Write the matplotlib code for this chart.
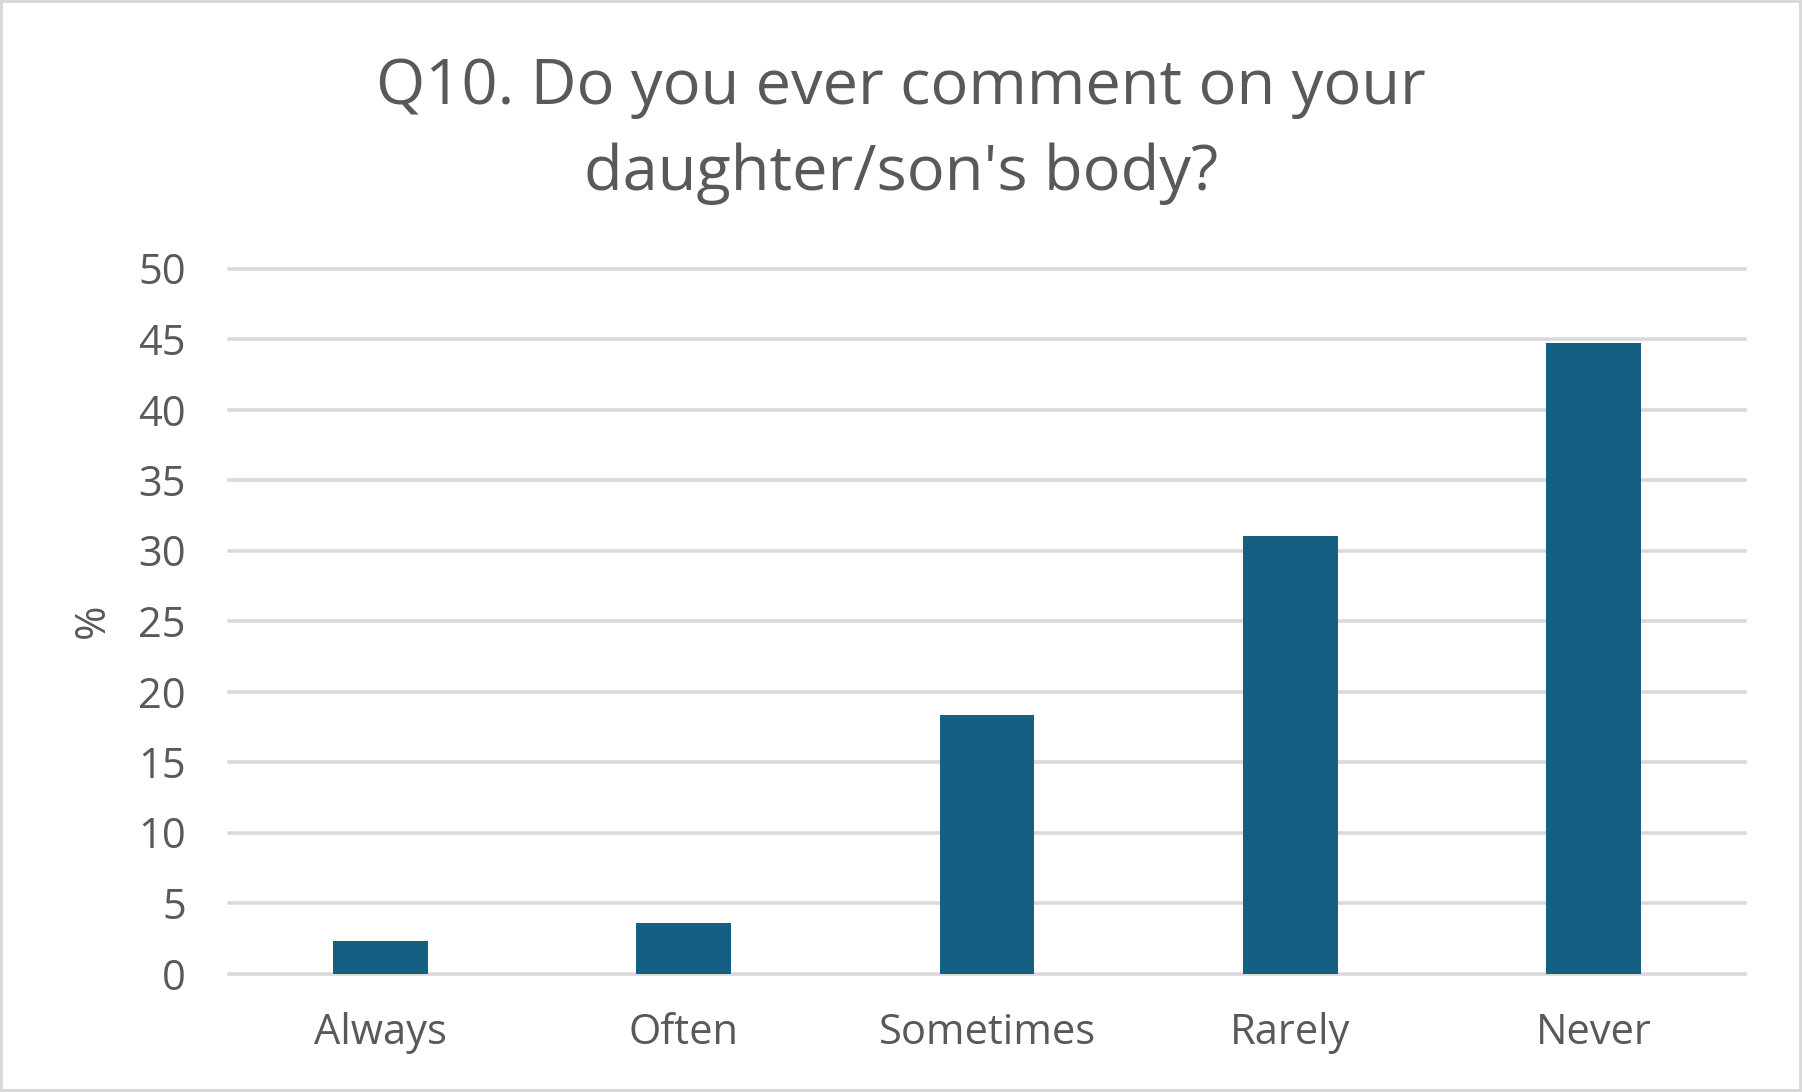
import matplotlib
matplotlib.use("Agg")
import matplotlib.pyplot as plt

# Werte (Prozent)
kategorien = ["Always", "Often", "Sometimes", "Rarely", "Never"]
prozent = [2.3, 3.6, 18.35, 31.05, 44.7]
y_ticks = [0, 5, 10, 15, 20, 25, 30, 35, 40, 45, 50]
titel_zeilen = ["Q10. Do you ever comment on your", "daughter/son's body?"]

text_farbe = "#595959"
gitter_farbe = "#D9D9D9"
balken_farbe = "#156082"

plt.rcParams["font.family"] = ["Open Sans", "DejaVu Sans"]

W, H = 1802, 1092
fig = plt.figure(figsize=(W / 100, H / 100), dpi=100)
fig.patch.set_facecolor("white")
fig.patch.set_edgecolor(gitter_farbe)
fig.patch.set_linewidth(3)

# Achsenposition in Pixeln
links, rechts, oben, unten = 229, 1745, 268.5, 973.5
ax = fig.add_axes([links / W, (H - unten) / H, (rechts - links) / W, (unten - oben) / H])

x = range(len(kategorien))
ax.bar(x, prozent, width=0.313, color=balken_farbe, zorder=3)

ax.set_xlim(-0.5, len(kategorien) - 0.5)
ax.set_ylim(0, 50)
ax.set_yticks(y_ticks)
ax.set_xticks(list(x))
ax.set_xticklabels(kategorien)

ax.yaxis.grid(True, color=gitter_farbe, linewidth=2.6, zorder=0)
ax.set_axisbelow(True)
for linie in ax.get_ygridlines():
    linie.set_clip_on(False)
for s in ["top", "right", "left", "bottom"]:
    ax.spines[s].set_visible(False)

ax.tick_params(axis="y", length=0, pad=31, labelsize=30, labelcolor=text_farbe)
ax.tick_params(axis="x", length=0, pad=28, labelsize=30, labelcolor=text_farbe)

# Achsenbeschriftung
fig.text(93 / W, 1 - 621 / H, "%", rotation=90, ha="center", va="center",
         fontsize=30, color=text_farbe)

# Titel, zwei Zeilen
fig.text(0.5, 1 - 104 / H, titel_zeilen[0], ha="center", va="baseline",
         fontsize=45.5, color=text_farbe)
fig.text(0.5, 1 - 190 / H, titel_zeilen[1], ha="center", va="baseline",
         fontsize=45.5, color=text_farbe)

fig.savefig("out.png", dpi=100, facecolor=fig.get_facecolor(), edgecolor=fig.get_edgecolor())
